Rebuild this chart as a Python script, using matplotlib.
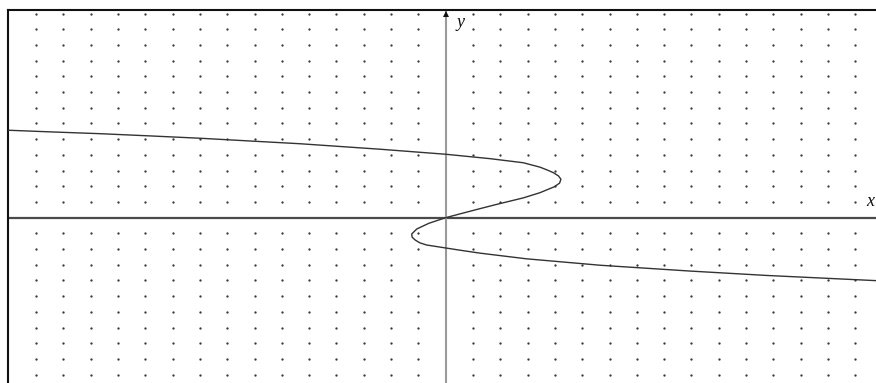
import numpy as np
import matplotlib
matplotlib.use("Agg")
import matplotlib.pyplot as plt

# Curve points (grid units; one unit = one dot spacing)
curve_y = [5.57, 5.46, 5.35, 5.21, 5.06, 4.71, 4.36, 4.04, 3.76, 3.50, 3.22,
           3.05, 2.87, 2.66, 2.45, 2.20, 1.97, 1.59, 1.26, 0.84, 0.55, 0.24,
           0.0, -0.36, -0.72, -1.04, -1.24, -1.42, -1.60, -1.74, -1.93, -2.07,
           -2.26, -2.62, -3.03, -3.40, -3.68, -4.01]
curve_x = [-16.03, -14.40, -12.66, -10.85, -9.00, -5.34, -2.40, 0.0, 1.62, 2.84, 3.45,
           3.70, 3.94, 4.13, 4.22, 4.17, 3.98, 3.45, 2.84, 1.85, 1.20, 0.52,
           0.0, -0.62, -1.06, -1.245, -1.23, -1.12, -0.95, -0.70, 0.0, 0.52,
           1.26, 2.96, 5.66, 8.95, 11.76, 15.76]

# Dot grid positions
grid_x = [v for v in range(-15, 16) if v != 0]
grid_y = [v for v in range(-10, 14) if v != 0]

W, H = 876, 383
fig = plt.figure(figsize=(W / 100, H / 100), dpi=100)
left_px, top_px = 8.3, 9.5
ax = fig.add_axes([left_px / W, 0, (W - left_px) / W, (H - top_px) / H])
ax.set_xlim(-16.02, 15.76)
ax.set_ylim(-10.53, 13.26)
for s in ["right", "bottom"]:
    ax.spines[s].set_visible(False)
for s in ["left", "top"]:
    ax.spines[s].set_linewidth(1.5)
    ax.spines[s].set_color("#111111")
ax.set_xticks([])
ax.set_yticks([])

gx, gy = np.meshgrid(grid_x, grid_y)
ax.scatter(gx.ravel(), gy.ravel(), s=2.8, color="#3a3a3a", linewidths=0, zorder=1)

ax.axhline(0, color="#4a4a4a", lw=1.6, zorder=2)
ax.axvline(0, color="#9a9a9a", lw=1.5, zorder=2)
ax.plot([0], [12.98], marker="^", markersize=4.5, color="#111111",
        markeredgewidth=0, clip_on=False, zorder=4)

ax.plot(curve_x, curve_y, color="#333333", lw=1.0, zorder=3,
        solid_joinstyle="round")

ax.text(0.40, 12.45, "y", family="Liberation Serif", style="italic",
        fontsize=13, ha="left", va="center", color="#111111")
ax.text(15.40, 1.05, "x", family="Liberation Serif", style="italic",
        fontsize=13, ha="left", va="center", color="#111111", clip_on=False)

fig.savefig("out.png", dpi=100)
